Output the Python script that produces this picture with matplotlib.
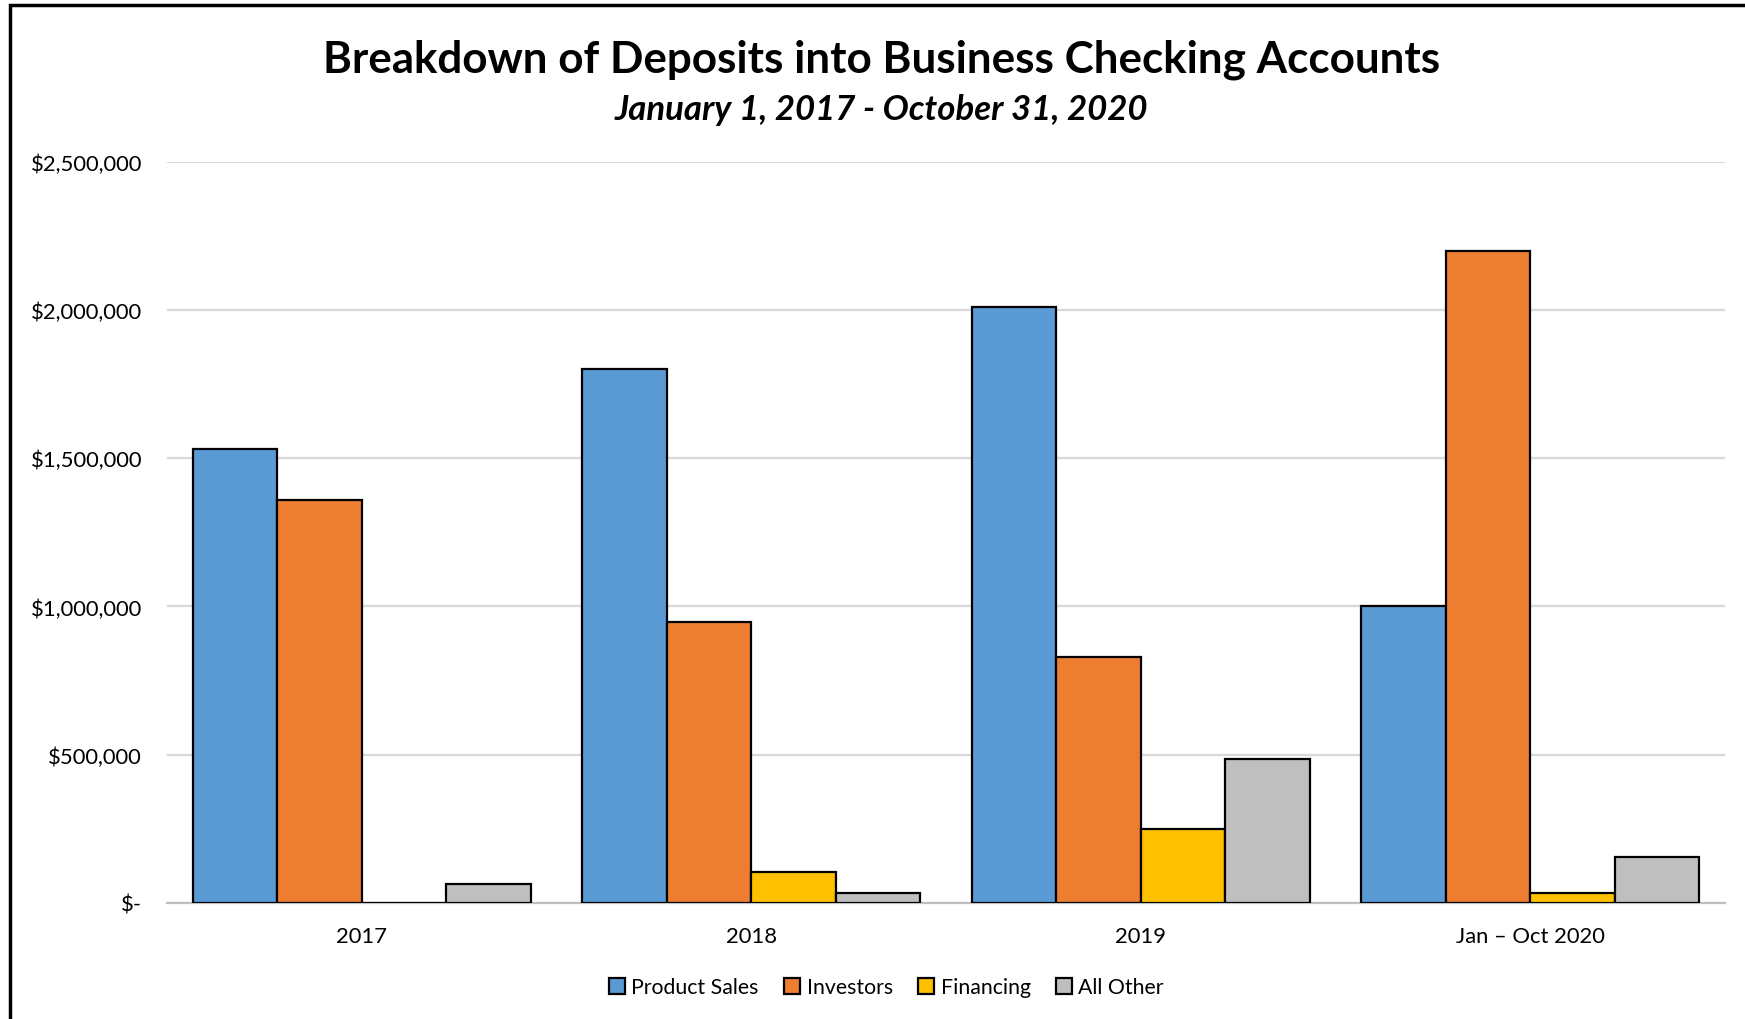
import matplotlib.pyplot as plt
import numpy as np
from matplotlib.patches import Patch, Rectangle
from matplotlib.ticker import FuncFormatter

plt.rcParams['font.family'] = ['Lato', 'DejaVu Sans']

categories = ["2017", "2018", "2019", "Jan \u2013 Oct 2020"]
series_names = ["Product Sales", "Investors", "Financing", "All Other"]
product_sales = [1532000, 1803000, 2011000, 1001000]
investors = [1359000, 949000, 828000, 2199000]
financing = [0, 105000, 248000, 34000]
all_other = [64000, 34000, 486000, 154000]
colors = ["#5B9BD5", "#ED7D31", "#FFC000", "#BFBFBF"]

fig = plt.figure(figsize=(17.45, 10.2), dpi=100)
ax = fig.add_axes([0.0957, 0.1140, 0.8928, 0.7262])

x = np.arange(len(categories))
w = 0.217
all_series = [product_sales, investors, financing, all_other]
for i, (vals, name, c) in enumerate(zip(all_series, series_names, colors)):
    ax.bar(x + (i - 1.5) * w, vals, width=w, color=c, edgecolor="black",
           linewidth=1.6, label=name, zorder=3)

ax.set_xlim(-0.5, 3.5)
ax.set_ylim(0, 2500000)
ax.set_yticks(np.arange(0, 2500001, 500000))
ax.yaxis.set_major_formatter(FuncFormatter(lambda v, p: "$-" if v == 0 else "${:,.0f}".format(v)))
ax.set_xticks(x)
ax.set_xticklabels(categories)
ax.grid(axis="y", color="#D9D9D9", linewidth=1.6, zorder=0)
for s in ["top", "right", "left"]:
    ax.spines[s].set_visible(False)
ax.spines["bottom"].set_color("#BFBFBF")
ax.spines["bottom"].set_linewidth(1.6)
ax.tick_params(axis="both", length=0, labelsize=15.8, colors="black")
ax.tick_params(axis="y", pad=18)
ax.tick_params(axis="x", pad=17)

fig.text(0.505, 0.941, "Breakdown of Deposits into Business Checking Accounts",
         ha="center", va="center", fontsize=31.7, fontweight="bold")
fig.text(0.505, 0.892, "January 1, 2017 - October 31, 2020",
         ha="center", va="center", fontsize=25, fontweight="bold", fontstyle="italic")

handles = [Patch(facecolor=c, edgecolor="black", linewidth=1.6) for c in colors]
fig.legend(handles, series_names, loc="center", bbox_to_anchor=(0.508, 0.031),
           ncol=4, frameon=False, fontsize=15.3, handlelength=0.75, handleheight=0.75,
           handletextpad=0.3, columnspacing=1.2)

fig.patches.append(Rectangle((0.0055, -0.05), 1.1, 1.044, transform=fig.transFigure,
                             fill=False, edgecolor="black", linewidth=2.5))

fig.savefig("out.png", dpi=100)
